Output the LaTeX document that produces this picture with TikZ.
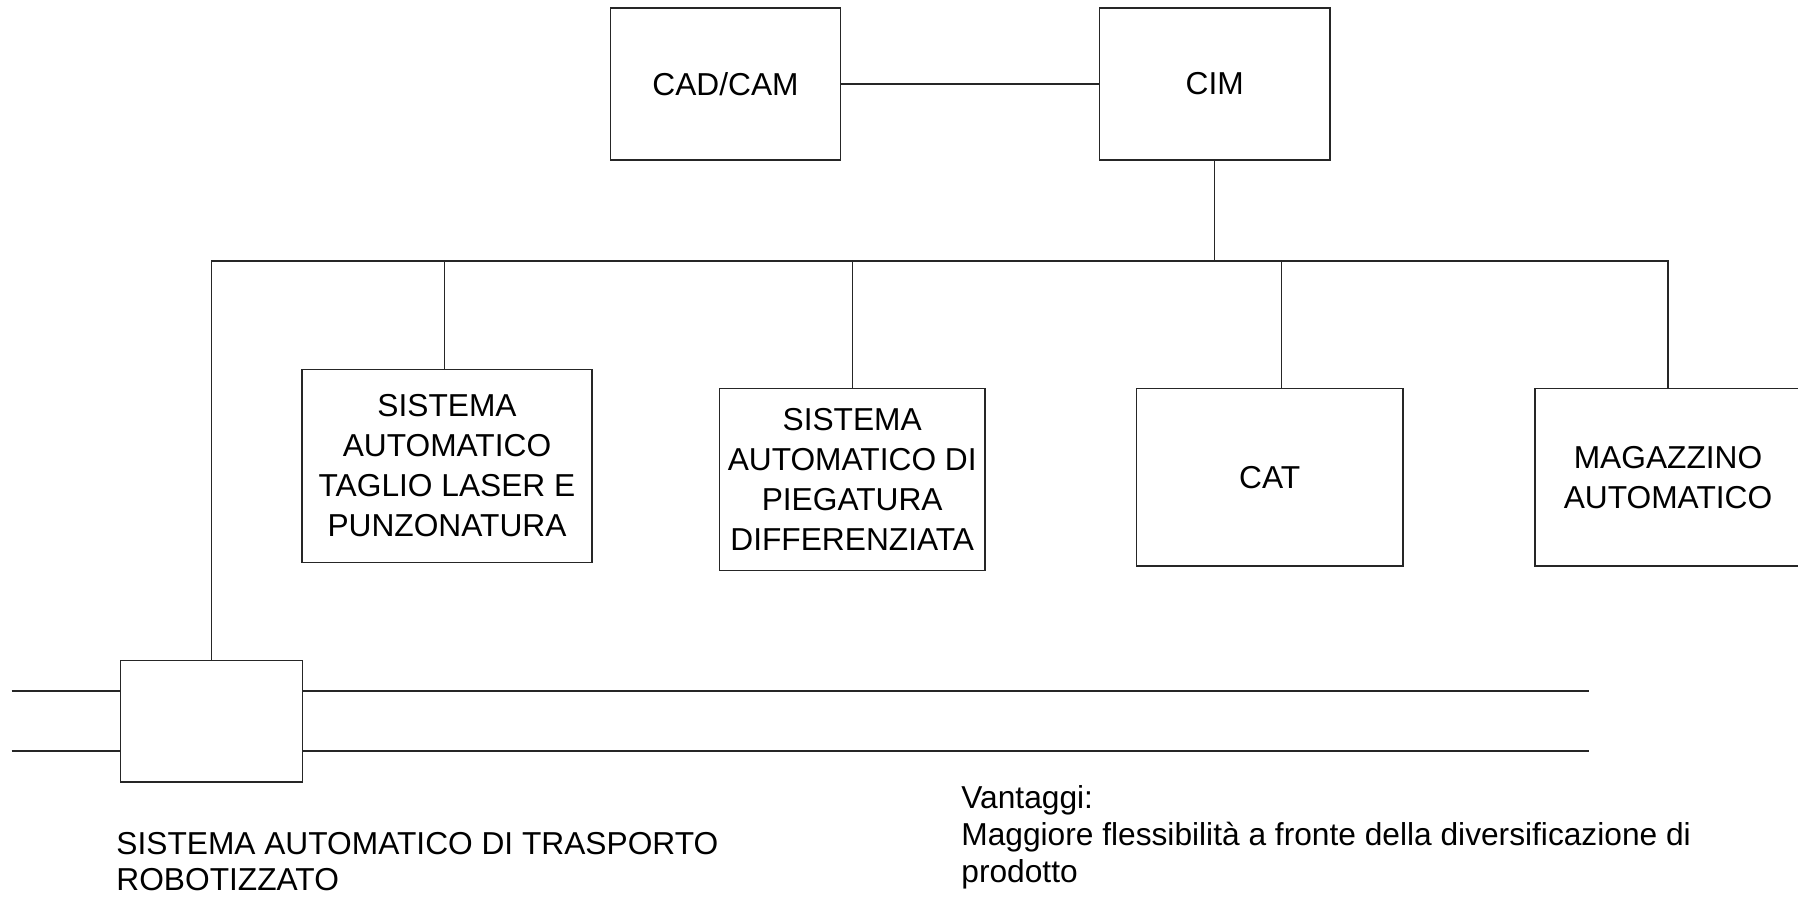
\documentclass[tikz,border=0pt]{standalone}
\usepackage{fontspec}
\setmainfont{Liberation Sans}
\usetikzlibrary{calc}
\begin{document}
\begin{tikzpicture}[x=0.5pt,y=-0.5pt,
  line/.style={draw=black!85, line width=0.7pt},
  box/.style={line, rectangle, inner sep=0pt, align=center,
    font=\fontsize{15.85}{20}\selectfont},
  caption/.style={inner sep=0pt, align=left, anchor=north west,
    font=\fontsize{15.85}{18.35}\selectfont}]
\useasboundingbox (0,0) rectangle (1798,896);
\clip (0,0) rectangle (1798,896);

% top level
\node[box, minimum width=115pt, minimum height=76pt] (cadcam) at (725.5,84) {CAD/CAM};
\node[box, minimum width=115.25pt, minimum height=76pt] (cim) at (1214.7,84) {CIM};

% cells
\node[box, minimum width=145pt, minimum height=96.5pt] (laser) at (447,465.8)
  {SISTEMA\\AUTOMATICO\\TAGLIO LASER E\\PUNZONATURA};
\node[box, minimum width=132.8pt, minimum height=91pt] (pieg) at (852.2,479.6)
  {SISTEMA\\AUTOMATICO DI\\PIEGATURA\\DIFFERENZIATA};
\node[box, minimum width=133.3pt, minimum height=88.75pt] (cat) at (1269.7,477.3) {CAT};
\node[box, minimum width=133pt, minimum height=88.9pt] (mag) at (1668,477.2)
  {MAGAZZINO\\AUTOMATICO};

% transport carriage
\node[box, minimum width=91.15pt, minimum height=60.75pt] (trasp) at (211.5,721.2) {};

% links
\coordinate (busy) at (0,261);
\draw[line] (cadcam.east) -- (cim.west);
\draw[line] (cim.south) -- (cim.south |- busy);
\draw[line] (trasp.north) -- (trasp.north |- busy) -- (mag.north |- busy) -- (mag.north);
\coordinate (laserdrop) at ($(laser.north)+(-2.6,0)$);
\coordinate (catdrop) at ($(cat.north)+(11.5,0)$);
\draw[line] (laserdrop |- busy) -- (laserdrop);
\draw[line] (pieg.north |- busy) -- (pieg.north);
\draw[line] (catdrop |- busy) -- (catdrop);

% rails
\coordinate (railA) at (11.7,691);
\coordinate (railB) at (1589,691);
\coordinate (railC) at (11.7,751);
\coordinate (railD) at (1589,751);
\draw[line] (railA) -- (railA -| trasp.west);
\draw[line] (railA -| trasp.east) -- (railB);
\draw[line] (railC) -- (railC -| trasp.west);
\draw[line] (railC -| trasp.east) -- (railD);

% captions
\node[caption] (trasplabel) at (116,831.7) {SISTEMA AUTOMATICO DI TRASPORTO\\ROBOTIZZATO};
\node[caption] (vantaggi) at (961,785.5)
  {Vantaggi:\\Maggiore flessibilità a fronte della diversificazione di\\prodotto};
\end{tikzpicture}
\end{document}
